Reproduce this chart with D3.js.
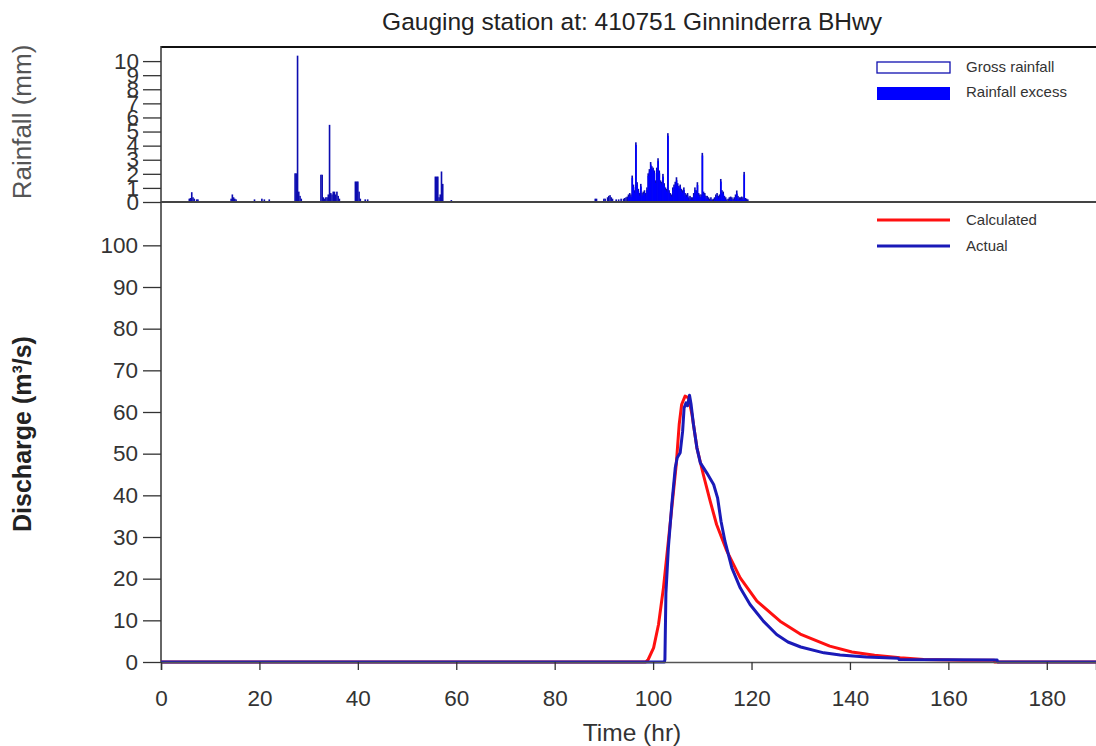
<!DOCTYPE html>
<html><head><meta charset="utf-8">
<script src="https://cdn.jsdelivr.net/npm/d3@7"></script>
<style>
html,body{margin:0;padding:0;background:#fff;}
svg{display:block;font-family:"Liberation Sans",Arial,sans-serif;}
</style></head>
<body><svg id="c" width="1096" height="746"></svg>
<script>
// ---------- DATA ----------
const chartTitle = "Gauging station at: 410751 Ginninderra BHwy";
const timeTicks = [0, 20, 40, 60, 80, 100, 120, 140, 160, 180];
const rainTicks = [0, 1, 2, 3, 4, 5, 6, 7, 8, 9, 10];
const dischargeTicks = [0, 10, 20, 30, 40, 50, 60, 70, 80, 90, 100];
const rainStep = 0.25; // hr per rainfall interval

// rainfall rows: [time (hr), gross rainfall (mm), rainfall excess (mm)]
const rainRows = [
 [5.75,0.2,0],[6.0,0.25,0],[6.25,0.66,0],[6.5,0.3,0],[6.75,0.2,0],[7.25,0.15,0],[7.5,0.15,0],
 [14.25,0.2,0],[14.5,0.5,0],[14.75,0.3,0],[15.0,0.2,0],[15.25,0.15,0],
 [19.0,0.15,0],[20.5,0.2,0],[21.0,0.15,0],[22.0,0.15,0],
 [27.25,2.0,0],[27.5,2.0,0],[27.75,10.35,0],[28.0,0.7,0],[28.25,0.4,0],[28.5,0.2,0],
 [32.5,1.9,0],[32.75,1.9,0],[33.0,0.3,0],[33.25,0.2,0],[33.5,0.3,0],[33.75,0.3,0],[34.0,0.5,0],
 [34.25,5.44,0],[34.5,0.6,0],[34.75,0.5,0],[35.0,0.7,0],[35.25,0.7,0],[35.5,0.5,0],[35.75,0.7,0],[36.0,0.4,0],[36.25,0.2,0],
 [39.5,1.42,0],[39.75,1.42,0],[40.0,1.42,0],[40.25,0.7,0],[40.5,0.2,0],[41.5,0.15,0],[42.0,0.15,0],
 [55.75,1.77,0],[56.0,1.77,0],[56.25,1.77,0],[56.5,0.3,0],[56.75,0.5,0],[57.0,2.13,0],[57.25,1.25,0],[59.0,0.1,0],
 [88.25,0.2,0],[88.5,0.2,0],[90.0,0.2,0],[90.25,0.2,0],
 [90.75,0.3,0],[91.0,0.4,0],[91.25,0.45,0],[91.5,0.3,0],[91.75,0.2,0],
 [92.5,0.15,0],[93.0,0.15,0],[93.5,0.2,0],[94.0,0.2,0],[94.25,0.25,0],[94.5,0.3,0],[94.75,0.35,0],
 [95.0,0.5,0.35],[95.25,0.6,0.45],[95.5,0.5,0.35],[95.75,1.84,1.7],[96.0,1.2,1.05],[96.25,0.8,0.65],
 [96.5,4.2,4.05],[96.75,1.37,1.2],[97.0,0.9,0.75],[97.25,0.6,0.45],[97.5,1.25,1.1],[97.75,0.6,0.45],
 [98.0,0.7,0.55],[98.25,0.8,0.65],[98.5,0.6,0.45],[98.75,1.0,0.85],[99.0,2.0,1.85],[99.25,2.3,2.15],
 [99.5,2.8,2.65],[99.75,2.5,2.35],[100.0,2.4,2.25],[100.25,2.2,2.05],[100.5,1.5,1.35],[100.75,2.4,2.25],
 [101.0,3.07,2.9],[101.25,2.2,2.05],[101.5,1.5,1.35],[101.75,1.4,1.25],[102.0,1.96,1.8],[102.25,1.3,1.15],
 [102.5,1.0,0.85],[102.75,0.9,0.75],[103.0,4.85,4.7],[103.25,0.8,0.65],[103.5,0.6,0.45],[103.75,0.5,0.35],
 [104.0,1.0,0.85],[104.25,1.2,1.05],[104.5,1.4,1.25],[104.75,1.72,1.55],[105.0,1.3,1.15],[105.25,1.1,0.95],
 [105.5,1.2,1.05],[105.75,0.9,0.75],[106.0,0.8,0.65],[106.25,1.0,0.85],[106.5,0.6,0.45],[106.75,0.5,0.35],
 [107.0,0.6,0.45],[107.25,0.3,0.15],[107.5,0.4,0.25],[107.75,0.3,0.15],[108.0,0.3,0.15],[108.25,0.6,0.45],
 [108.5,1.0,0.85],[108.75,0.8,0.65],[109.0,1.37,1.2],[109.25,0.6,0.45],[109.5,0.5,0.35],[109.75,0.5,0.35],
 [110.0,3.45,3.3],[110.25,0.7,0.55],[110.5,0.6,0.45],[110.75,0.4,0.25],[111.0,0.4,0.25],[111.25,0.3,0.15],
 [111.5,0.2,0.05],[111.75,0.3,0.15],[112.0,0.15,0],[112.25,0.2,0.05],[112.5,0.3,0.15],[112.75,0.5,0.35],
 [113.0,0.6,0.45],[113.25,0.4,0.25],[113.5,0.5,0.35],[113.75,1.6,1.45],[114.0,0.8,0.65],[114.25,0.7,0.55],
 [114.5,0.4,0.25],[114.75,0.3,0.15],[115.0,0.15,0],[115.25,0.2,0.05],[115.5,0.3,0.15],[115.75,0.35,0.2],
 [116.0,0.3,0.15],[116.25,0.2,0.05],[116.5,0.3,0.15],[116.75,0.5,0.35],[117.0,0.78,0.6],[117.25,0.4,0.25],
 [117.5,0.3,0.15],[117.75,0.3,0.15],[118.0,0.35,0.2],[118.25,0.3,0.15],[118.5,2.1,1.95],[118.75,0.25,0.1],
 [119.0,0.2,0.05],[119.25,0.15,0]
];

// Calculated hydrograph
const calcTime = [0, 98.5, 99.0, 100.1, 101.1, 102.1, 103.1, 103.8, 104.7, 105.3, 105.8, 106.5, 107.2, 107.9, 108.9, 110.2, 111.6, 112.9, 115.0, 117.7, 121.1, 125.8, 129.9, 135.9, 140.4, 145.0, 150.2, 155.0, 163.0, 169.3, 169.4, 190];
const calcQ    = [0, 0, 0.6, 3.4, 9.0, 17.8, 29.0, 37.0, 47.4, 57.0, 61.8, 63.8, 63.4, 59.4, 51.4, 45.0, 38.6, 33.0, 26.6, 20.2, 14.6, 9.8, 6.7, 3.8, 2.4, 1.6, 1.0, 0.6, 0.4, 0.4, 0, 0];
// Actual hydrograph
const actTime = [0, 102.3, 102.4, 102.6, 103.1, 103.8, 104.5, 104.9, 105.5, 106.0, 106.3, 106.7, 107.0, 107.4, 107.7, 108.2, 108.9, 109.6, 110.9, 112.3, 113.1, 113.8, 114.6, 116.0, 117.7, 119.7, 122.4, 125.1, 127.4, 130.0, 134.7, 138.0, 143.3, 149.8, 150.0, 169.9, 170.0, 190];
const actQ    = [0, 0, 0.6, 16.4, 27.4, 37.8, 46.6, 49.0, 50.2, 55.4, 61.0, 62.2, 61.5, 64.0, 62.0, 57.0, 51.4, 47.8, 45.4, 42.6, 39.4, 33.8, 29.0, 22.6, 17.8, 13.8, 9.8, 6.6, 4.8, 3.6, 2.2, 1.7, 1.2, 0.9, 0.6, 0.5, 0, 0];

// ---------- DRAW ----------
const svg = d3.select("#c");
const L = 161, R = 1096;
const x = d3.scaleLinear().domain([0, 190]).range([L, R]);
const yR = d3.scaleLinear().domain([0, 11]).range([202, 47]);
const yQ = d3.scaleLinear().domain([0, 110.4]).range([662, 202]);
const axisCol = "#333";

// Title
svg.append("text").attr("x", 632).attr("y", 30).attr("text-anchor", "middle")
  .attr("font-size", 24.5).attr("fill", "#222").text(chartTitle);

// Rainfall bars
const bw = x(rainStep) - x(0);
const gRain = svg.append("g");
gRain.selectAll("rect.g").data(rainRows).join("rect").attr("class", "g")
  .attr("x", d => x(d[0]) - bw * 0.25).attr("width", bw * 0.5)
  .attr("y", d => yR(d[1])).attr("height", d => yR(0) - yR(d[1]))
  .attr("fill", "#fff").attr("stroke", "#0c0cb0").attr("stroke-width", 1);
gRain.selectAll("rect.e").data(rainRows.filter(d => d[2] > 0)).join("rect").attr("class", "e")
  .attr("x", d => x(d[0]) - bw / 2).attr("width", bw + 0.3)
  .attr("y", d => yR(d[2])).attr("height", d => yR(0) - yR(d[2]))
  .attr("fill", "#0000ff");

// Rainfall axes
const aR = svg.append("g").attr("transform", `translate(${L},0)`)
  .call(d3.axisLeft(yR).tickValues(rainTicks).tickSize(18).tickPadding(4));
aR.select(".domain").remove();
aR.selectAll("line").attr("stroke", axisCol).attr("stroke-width", 1.3);
aR.selectAll("text").attr("font-size", 22.5).attr("fill", "#333").attr("font-family", "Liberation Sans, Arial");
svg.append("line").attr("x1", L).attr("x2", R).attr("y1", 47).attr("y2", 47).attr("stroke", "#111").attr("stroke-width", 2);
svg.append("line").attr("x1", L).attr("x2", L).attr("y1", 46).attr("y2", 662).attr("stroke", axisCol).attr("stroke-width", 1.5);

// Discharge lines
const line = d3.line().x(d => x(d[0])).y(d => yQ(d[1]));
svg.append("path").datum(calcTime.map((t, i) => [t, calcQ[i]])).attr("d", line)
  .attr("fill", "none").attr("stroke", "#ff1010").attr("stroke-width", 3).attr("stroke-linejoin", "round");
svg.append("path").datum(actTime.map((t, i) => [t, actQ[i]])).attr("d", line)
  .attr("fill", "none").attr("stroke", "#1a1ab8").attr("stroke-width", 3).attr("stroke-linejoin", "round");

// separator (rainfall baseline)
svg.append("line").attr("x1", L).attr("x2", R).attr("y1", 202).attr("y2", 202).attr("stroke", "#444").attr("stroke-width", 2);

// Discharge axes
const aQ = svg.append("g").attr("transform", `translate(${L},0)`)
  .call(d3.axisLeft(yQ).tickValues(dischargeTicks).tickSize(18).tickPadding(5));
aQ.select(".domain").remove();
aQ.selectAll("line").attr("stroke", axisCol).attr("stroke-width", 1.3);
aQ.selectAll("text").attr("font-size", 22.5).attr("fill", "#333").attr("font-family", "Liberation Sans, Arial");

const aX = svg.append("g").attr("transform", `translate(0,662)`)
  .call(d3.axisBottom(x).tickValues(timeTicks).tickSize(8).tickPadding(20));
aX.select(".domain").attr("stroke", "#555").attr("stroke-width", 1.5);
aX.selectAll("line").attr("stroke", axisCol).attr("stroke-width", 1.3);
aX.selectAll("text").attr("font-size", 22.5).attr("fill", "#333").attr("font-family", "Liberation Sans, Arial");

// Axis titles
svg.append("text").attr("x", 632).attr("y", 741).attr("text-anchor", "middle")
  .attr("font-size", 24.5).attr("fill", "#333").text("Time (hr)");
svg.append("text").attr("transform", "translate(31,122) rotate(-90)").attr("text-anchor", "middle")
  .attr("font-size", 26).attr("fill", "#555").text("Rainfall (mm)");
svg.append("text").attr("transform", "translate(31,434) rotate(-90)").attr("text-anchor", "middle")
  .attr("font-size", 25).attr("font-weight", "bold").attr("fill", "#222").text("Discharge (m³/s)");

// Legends
const lg1 = svg.append("g");
lg1.append("rect").attr("x", 877).attr("y", 62).attr("width", 73).attr("height", 11)
  .attr("fill", "#fff").attr("stroke", "#1010b0").attr("stroke-width", 1.3);
lg1.append("rect").attr("x", 877).attr("y", 87).attr("width", 73).attr("height", 13).attr("fill", "#0000ff");
lg1.append("text").attr("x", 966).attr("y", 72).attr("font-size", 15).attr("fill", "#333").text("Gross rainfall");
lg1.append("text").attr("x", 966).attr("y", 97).attr("font-size", 15).attr("fill", "#333").text("Rainfall excess");

const lg2 = svg.append("g");
lg2.append("line").attr("x1", 877).attr("x2", 950).attr("y1", 220).attr("y2", 220).attr("stroke", "#ff1010").attr("stroke-width", 2.8);
lg2.append("line").attr("x1", 877).attr("x2", 950).attr("y1", 246).attr("y2", 246).attr("stroke", "#1a1ab8").attr("stroke-width", 2.8);
lg2.append("text").attr("x", 966).attr("y", 225).attr("font-size", 15).attr("fill", "#333").text("Calculated");
lg2.append("text").attr("x", 966).attr("y", 251).attr("font-size", 15).attr("fill", "#333").text("Actual");
</script></body></html>
